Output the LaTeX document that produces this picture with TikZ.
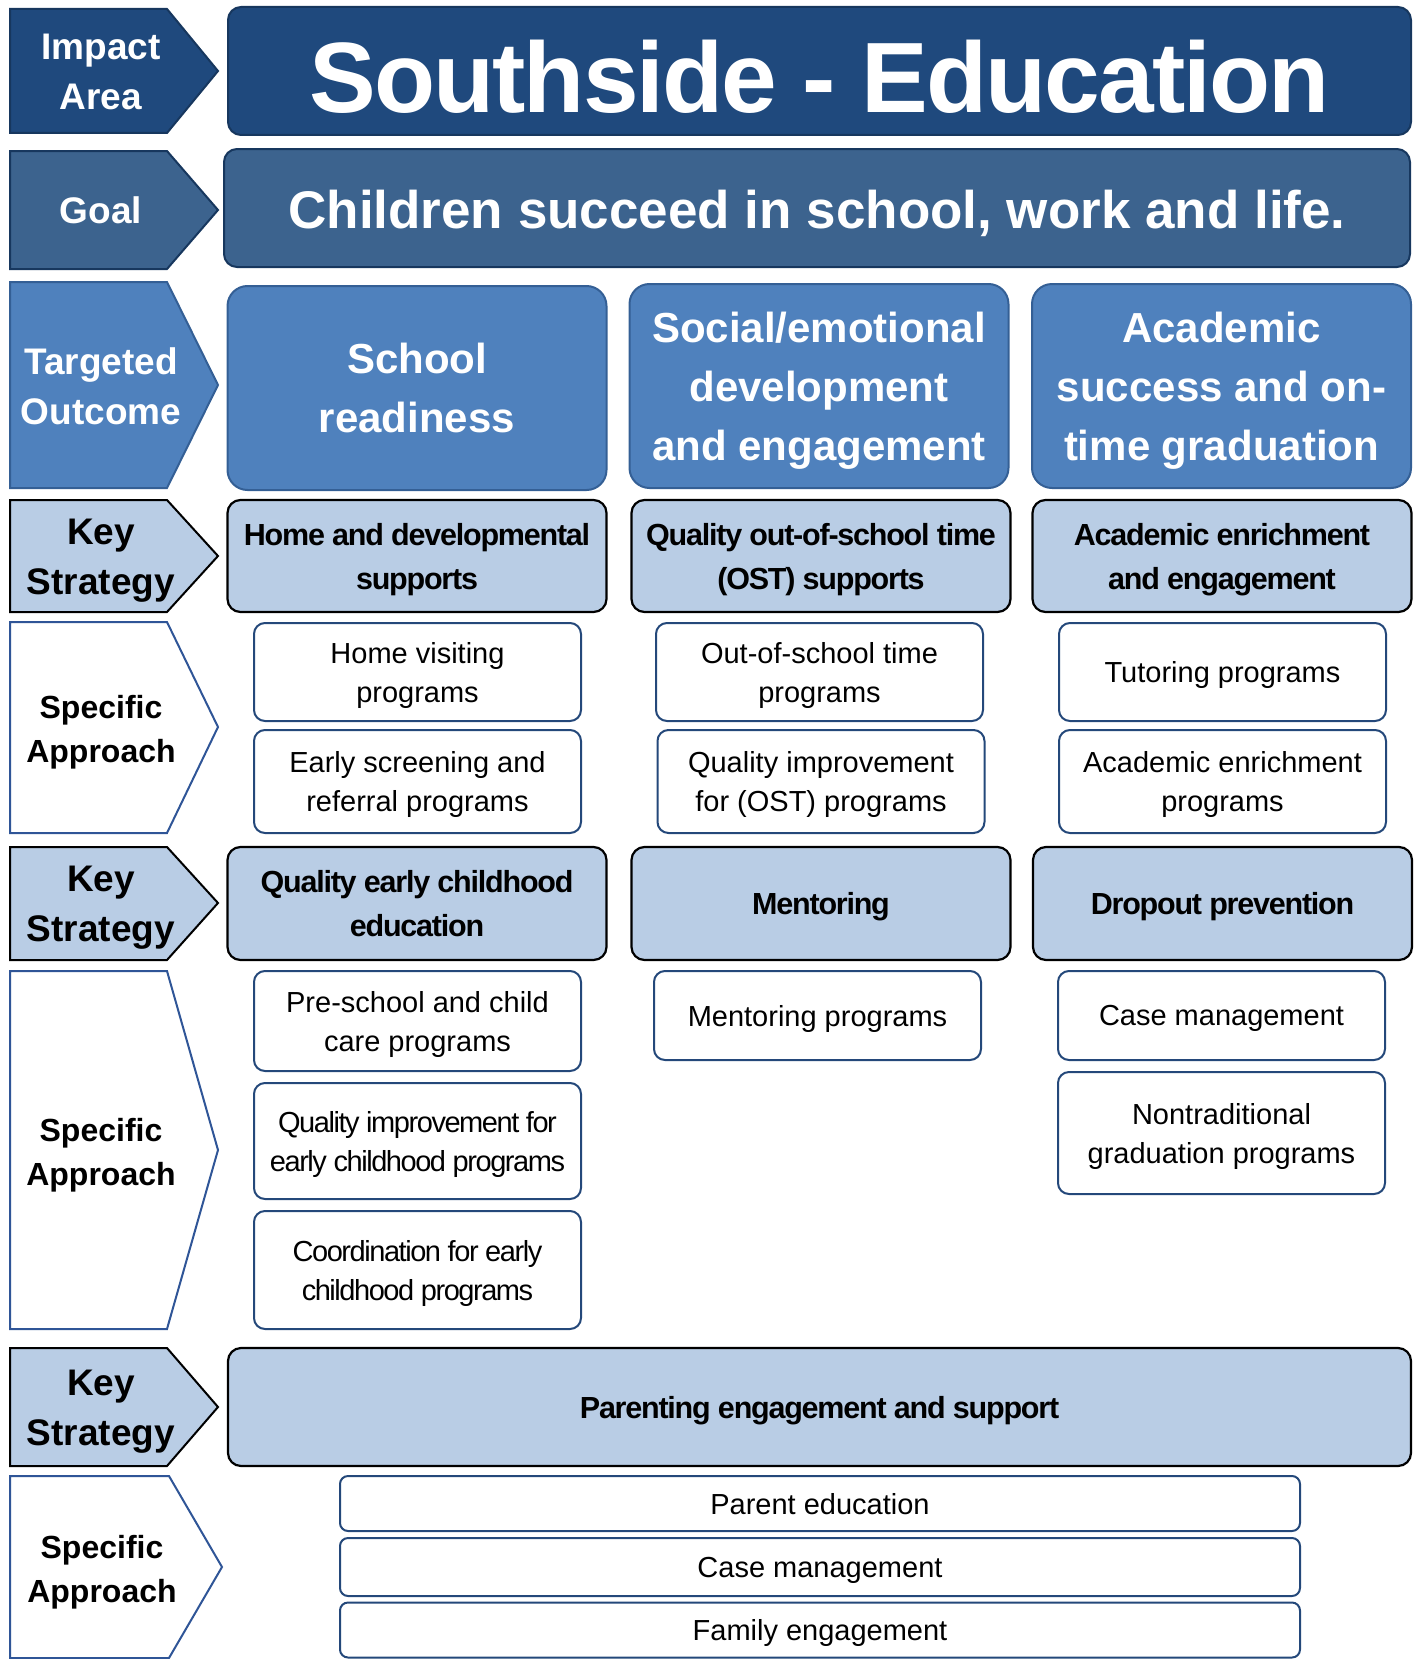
\documentclass[tikz,border=0pt]{standalone}
\usepackage{fontspec}
\setmainfont{Liberation Sans}
\usepackage{tikz}

\definecolor{impactblue}{HTML}{1F497D}
\definecolor{goalblue}{HTML}{3C638E}
\definecolor{outcomeblue}{HTML}{4F81BD}
\definecolor{keyblue}{HTML}{B9CDE5}
\definecolor{edgenavy}{HTML}{17375E}
\definecolor{outcomeedge}{HTML}{345F95}
\definecolor{approachedge}{HTML}{2F5597}
\definecolor{boxedge}{HTML}{24487A}

\begin{document}
\begin{tikzpicture}[x=1pt,y=-1pt,
    tag/.style={line width=2pt,line join=miter},
    tagtext/.style={align=center,text depth=0pt,font={\fontsize{37}{50}\selectfont\bfseries}},
    satext/.style={align=center,text depth=0pt,font={\fontsize{32}{44}\selectfont\bfseries}},
    topbox/.style={rounded corners=13pt,line width=2pt,draw=edgenavy,text=white,align=center},
    outcome/.style={rounded corners=20pt,fill=outcomeblue,draw=outcomeedge,line width=2pt,
      text=white,align=center,text depth=0pt,minimum width=379pt,minimum height=204pt,
      font={\fontsize{42}{59}\selectfont\bfseries}},
    keybox/.style={rounded corners=13pt,fill=keyblue,draw=black,line width=2.2pt,align=center,
      text depth=0pt,minimum width=379pt,
      font={\fontsize{30.5}{44}\selectfont\bfseries\addfontfeatures{LetterSpace=-4}}},
    approach/.style={rounded corners=11pt,fill=white,draw=boxedge,line width=2pt,align=center,
      text depth=0pt,minimum width=327pt,font={\fontsize{29}{39}\selectfont}},
    tight/.style={font={\fontsize{29}{39}\selectfont\addfontfeatures{LetterSpace=-5}}}]
  \useasboundingbox (0,0) rectangle (1418,1659);

  % left hand tags
  \draw[tag,fill=impactblue,draw=edgenavy] (10,9) -- (167,9) -- (218,71) -- (167,133) -- (10,133) -- cycle;
  \node[tagtext,text=white] (impact) at (101,72) {Impact\\Area};
  \draw[tag,fill=goalblue,draw=edgenavy] (10,151) -- (167,151) -- (218,210) -- (167,269) -- (10,269) -- cycle;
  \node[tagtext,text=white] (goal) at (101,210) {Goal};
  \draw[tag,fill=outcomeblue,draw=outcomeedge] (10,282) -- (167,282) -- (218,385) -- (167,488) -- (10,488) -- cycle;
  \node[tagtext,text=white] (outcome) at (101,386) {Targeted\\Outcome};
  \draw[tag,fill=keyblue,draw=black] (10,500) -- (167,500) -- (218,556) -- (167,612) -- (10,612) -- cycle;
  \node[tagtext] (key1) at (101,557) {Key\\Strategy};
  \draw[tag,fill=white,draw=approachedge] (10,622) -- (167,622) -- (218,727) -- (167,833) -- (10,833) -- cycle;
  \node[satext] (spec1) at (101,729) {Specific\\Approach};
  \draw[tag,fill=keyblue,draw=black] (10,847) -- (167,847) -- (218,903) -- (167,960) -- (10,960) -- cycle;
  \node[tagtext] (key2) at (101,904) {Key\\Strategy};
  \draw[tag,fill=white,draw=approachedge] (10,971) -- (167,971) -- (218,1150) -- (167,1329) -- (10,1329) -- cycle;
  \node[satext] (spec2) at (101,1152) {Specific\\Approach};
  \draw[tag,fill=keyblue,draw=black] (10,1348) -- (167,1348) -- (218,1407) -- (167,1466) -- (10,1466) -- cycle;
  \node[tagtext] (key3) at (101,1408) {Key\\Strategy};
  \draw[tag,fill=white,draw=approachedge] (10,1476) -- (169,1476) -- (222,1567) -- (169,1658) -- (10,1658) -- cycle;
  \node[satext] (spec3) at (102,1569) {Specific\\Approach};

  % impact area and goal
  \node[topbox,fill=impactblue,minimum width=1183pt,minimum height=128pt,
    text height=83pt,text depth=0pt,
    font={\fontsize{100}{100}\selectfont\bfseries\addfontfeatures{LetterSpace=-2}}]
    (title) at (819.5,71) {Southside - Education};
  \node[topbox,fill=goalblue,minimum width=1186pt,minimum height=118pt,
    text height=40pt,text depth=0pt,font={\fontsize{53}{60}\selectfont\bfseries}]
    (goaltext) at (817,208) {Children succeed in school, work and life.};

  % targeted outcomes
  \node[outcome] (ready) at (417,388) {School\\readiness};
  \node[outcome] (social) at (819,386) {Social/emotional\\development\\and engagement};
  \node[outcome] (academic) at (1221.5,386) {Academic\\success and on-\\time graduation};

  % first key strategies
  \node[keybox,minimum height=112pt] (homesup) at (417,556) {Home and developmental\\supports};
  \node[keybox,minimum height=112pt] (ostsup) at (821,556) {Quality out-of-school time\\(OST) supports};
  \node[keybox,minimum height=112pt] (enrich) at (1222,556) {Academic enrichment\\and engagement};

  % first specific approaches
  \node[approach,minimum height=98pt] (homevisit) at (417.5,672) {Home visiting\\programs};
  \node[approach,minimum height=103pt] (screening) at (417.5,781.5) {Early screening and\\referral programs};
  \node[approach,minimum height=98pt] (ostprog) at (819.5,672) {Out-of-school time\\programs};
  \node[approach,minimum height=103pt] (ostquality) at (821,781.5) {Quality improvement\\for (OST) programs};
  \node[approach,minimum height=98pt] (tutoring) at (1222.5,672) {Tutoring programs};
  \node[approach,minimum height=103pt] (enrichprog) at (1222.5,781.5) {Academic enrichment\\programs};

  % second key strategies
  \node[keybox,minimum height=113pt] (earlyed) at (417,903.5) {Quality early childhood\\education};
  \node[keybox,minimum height=113pt] (mentor) at (821,903.5) {Mentoring};
  \node[keybox,minimum height=113pt] (dropout) at (1222.5,903.5) {Dropout prevention};

  % second specific approaches
  \node[approach,minimum height=100pt] (preschool) at (417.5,1021) {Pre-school and child\\care programs};
  \node[approach,tight,minimum height=116pt] (ecquality) at (417.5,1141) {Quality improvement for\\early childhood programs};
  \node[approach,tight,minimum height=118pt] (eccoord) at (417.5,1270) {Coordination for early\\childhood programs};
  \node[approach,minimum height=89pt] (mentorprog) at (817.5,1015.5) {Mentoring programs};
  \node[approach,minimum height=89pt] (casemgmt) at (1221.5,1015.5) {Case management};
  \node[approach,minimum height=122pt] (nontrad) at (1221.5,1133) {Nontraditional\\graduation programs};

  % parenting
  \node[keybox,minimum width=1183pt,minimum height=118pt] (parenting) at (819.5,1407) {Parenting engagement and support};
  \node[approach,minimum width=960pt,minimum height=55pt,rounded corners=8pt] (parented) at (820,1503.5) {Parent education};
  \node[approach,minimum width=960pt,minimum height=58pt,rounded corners=8pt] (parentcase) at (820,1567) {Case management};
  \node[approach,minimum width=960pt,minimum height=55pt,rounded corners=8pt] (family) at (820,1630) {Family engagement};
\end{tikzpicture}
\end{document}
